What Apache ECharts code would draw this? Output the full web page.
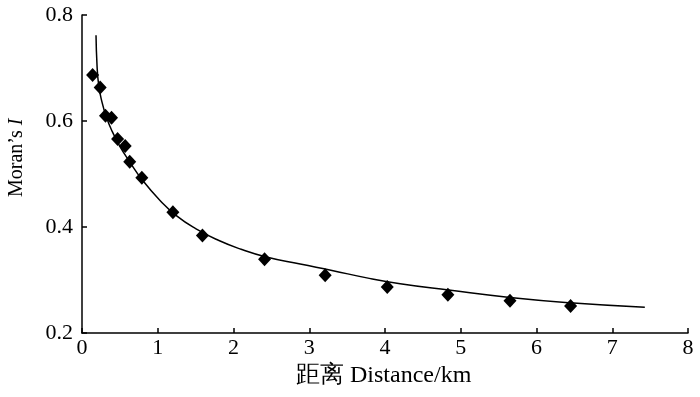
<!DOCTYPE html>
<html>
<head>
<meta charset="utf-8">
<script src="https://cdn.jsdelivr.net/npm/echarts@6/dist/echarts.min.js"></script>
<style>
html,body{margin:0;padding:0;background:#fff;}
#main{width:700px;height:397px;}
</style>
</head>
<body>
<div id="main"></div>
<script>
// Observed Moran's I values
var pointX = [0.14, 0.24, 0.31, 0.39, 0.47, 0.57, 0.63, 0.79, 1.20, 1.59, 2.41, 3.21, 4.03, 4.83, 5.65, 6.45];
var pointY = [0.687, 0.663, 0.610, 0.606, 0.566, 0.553, 0.523, 0.493, 0.428, 0.384, 0.339, 0.309, 0.287, 0.272, 0.261, 0.251];
// Fitted curve
var curveX = [0.185, 0.198, 0.22, 0.26, 0.32, 0.40, 0.50, 0.62, 0.80, 1.03, 1.25, 1.50, 1.80, 2.10, 2.42, 2.88, 3.30, 3.76, 4.20, 4.84, 5.65, 6.44, 7.43];
var curveY = [0.762, 0.706, 0.668, 0.638, 0.608, 0.580, 0.552, 0.525, 0.488, 0.450, 0.421, 0.397, 0.375, 0.358, 0.344, 0.330, 0.318, 0.304, 0.293, 0.281, 0.267, 0.257, 0.2485];
var xTicks = [0, 1, 2, 3, 4, 5, 6, 7, 8];
var yTicks = [0.2, 0.4, 0.6, 0.8];

var font = '"Liberation Serif", "Times New Roman", serif';
var chart = echarts.init(document.getElementById('main'));
var pts = pointX.map(function (x, i) { return [x, pointY[i]]; });
var crv = curveX.map(function (x, i) { return [x, curveY[i]]; });

chart.setOption({
  animation: false,
  backgroundColor: '#fff',
  grid: {left: 82, right: 12, top: 15, bottom: 64, containLabel: false},
  xAxis: {
    type: 'value', min: xTicks[0], max: xTicks[xTicks.length - 1], interval: 1,
    axisLine: {lineStyle: {color: '#000', width: 1.5}},
    axisTick: {inside: true, length: 5, lineStyle: {color: '#000', width: 1.5}},
    axisLabel: {color: '#000', fontFamily: font, fontSize: 22, margin: 4},
    splitLine: {show: false}
  },
  yAxis: {
    type: 'value', min: yTicks[0], max: yTicks[yTicks.length - 1], interval: 0.2,
    axisLine: {show: true, lineStyle: {color: '#000', width: 1.5}},
    axisTick: {show: true, inside: true, length: 5, lineStyle: {color: '#000', width: 1.5}},
    axisLabel: {color: '#000', fontFamily: font, fontSize: 22, margin: 9,
      formatter: function (v) { return v.toFixed(1); }},
    splitLine: {show: false}
  },
  graphic: [
    {type: 'text', left: 296, top: 364, style: {text: '距离 Distance/km', font: '24px ' + font, fill: '#000'}},
    {type: 'text', x: 7, y: 197, rotation: Math.PI / 2,
      style: {text: '{n|Moran’s }{i|I}', fill: '#000',
        rich: {n: {fontFamily: font, fontSize: 20, fill: '#000'}, i: {fontFamily: font, fontSize: 20, fontStyle: 'italic', fill: '#000'}}}}
  ],
  series: [
    {type: 'line', data: crv, smooth: 0.5, showSymbol: false, symbol: 'none',
      lineStyle: {color: '#000', width: 1.5}, z: 2},
    {type: 'scatter', data: pts, symbol: 'diamond', symbolSize: [13, 14],
      itemStyle: {color: '#000', opacity: 1}, z: 3}
  ]
});
</script>
</body>
</html>
